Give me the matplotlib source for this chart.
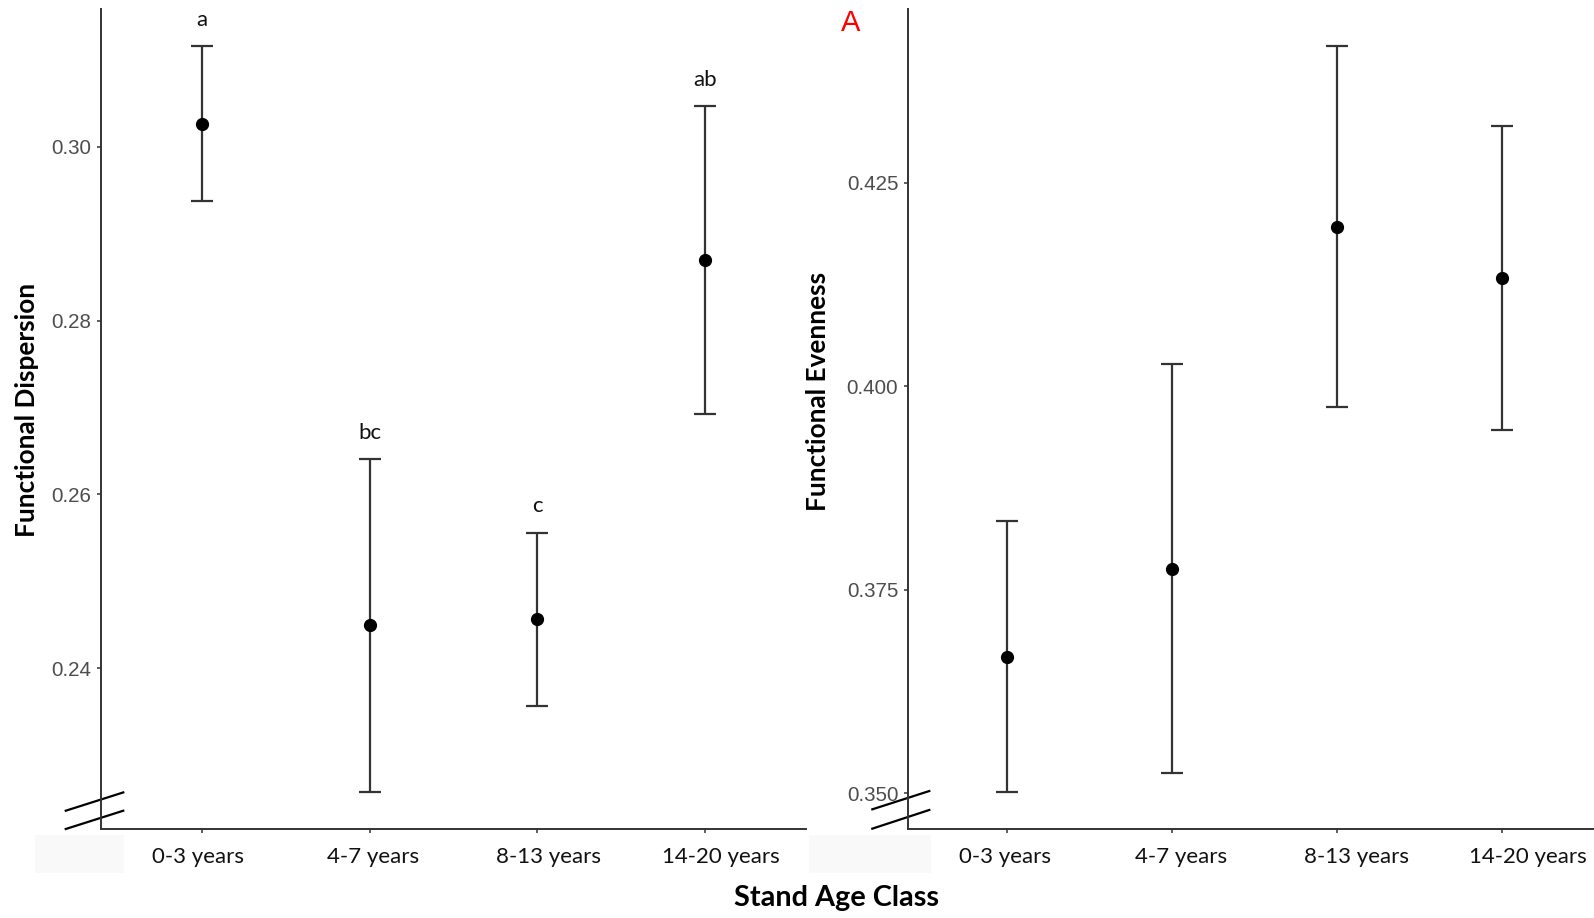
import matplotlib
matplotlib.use('Agg')
import matplotlib.pyplot as plt
from matplotlib.lines import Line2D
from matplotlib.patches import Rectangle
import numpy as np

# stand age classes and group means +/- SE
age_classes = ['0-3 years', '4-7 years', '8-13 years', '14-20 years']
fdis_mean = [0.3027, 0.2449, 0.2456, 0.2870]
fdis_se = [0.0089, 0.0192, 0.0100, 0.0177]
fdis_letters = ['a', 'bc', 'c', 'ab']
feve_mean = [0.3668, 0.3776, 0.4196, 0.4133]
feve_se = [0.0166, 0.0251, 0.0222, 0.0187]
fdis_ticks = [0.24, 0.26, 0.28, 0.30]
feve_ticks = [0.350, 0.375, 0.400, 0.425]

W, H = 1594, 918
fig = plt.figure(figsize=(W / 100, H / 100), dpi=100)

cat_font = 'Lato'
num_font = 'Liberation Sans'
line_col = '#333333'

# category label centres (px), typed in over the axes
label_x_left = [198, 373, 549, 721]
label_x_right = [1005, 1181, 1356, 1528]


def style_axes(ax, ticks, fmt):
	x = np.arange(1, len(age_classes) + 1)
	ax.set_xlim(0.4, len(age_classes) + 0.6)
	ax.set_xticks(x)
	ax.set_xticklabels([])
	ax.set_yticks(ticks)
	ax.set_yticklabels([fmt % t for t in ticks], fontfamily=num_font, fontsize=14.8, color='#4d4d4d')
	for side in ['top', 'right']:
		ax.spines[side].set_visible(False)
	for side in ['left', 'bottom']:
		ax.spines[side].set_color(line_col)
		ax.spines[side].set_linewidth(1.4)
	ax.tick_params(axis='both', length=3, width=1.1, color=line_col)
	ax.tick_params(axis='y', pad=4)
	ax.patch.set_alpha(0)


def category_labels(xs):
	for xp, lab in zip(xs, age_classes):
		fig.text(xp / W, 1 - 857 / H, lab, ha='center', va='center',
			fontfamily=cat_font, fontsize=16, color='#111111')


def break_marks(ax, xs, ys1, ys2):
	# two slanted strokes marking the truncated y axis
	for ys in (ys1, ys2):
		ax.add_line(Line2D(xs, ys, transform=ax.transAxes, color='black',
			lw=1.6, clip_on=False))


def draw_points(ax, mean, se):
	x = np.arange(1, len(mean) + 1)
	ax.errorbar(x, mean, yerr=se, fmt='none', ecolor=line_col, elinewidth=1.6,
		capsize=8, capthick=1.6, zorder=2)
	ax.plot(x, mean, 'o', color='black', markersize=8.5, zorder=3)


# faint patches left behind under the category labels
fig.add_artist(Rectangle((35 / W, 1 - 873 / H), 89 / W, 38 / H, transform=fig.transFigure,
	facecolor='#f9f9f9', edgecolor='none', zorder=0))
fig.add_artist(Rectangle((809 / W, 1 - 873 / H), 122 / W, 38 / H, transform=fig.transFigure,
	facecolor='#f9f9f9', edgecolor='none', zorder=0))

# Functional dispersion
ax1 = fig.add_axes([101 / W, 89 / H, 705 / W, 820 / H])
draw_points(ax1, fdis_mean, fdis_se)
for i, lab in enumerate(fdis_letters):
	ax1.text(i + 1, fdis_mean[i] + fdis_se[i] + 0.003, lab, ha='center', va='center',
		fontfamily=cat_font, fontsize=16, color='#111111')
ax1.set_ylim(0.22146, 0.31589)
style_axes(ax1, fdis_ticks, '%.2f')
break_marks(ax1, [-0.050, 0.0316], [0.0223, 0.0446], [0.0, 0.0223])
category_labels(label_x_left)

# Functional evenness
ax2 = fig.add_axes([908 / W, 89 / H, 693 / W, 820 / H])
draw_points(ax2, feve_mean, feve_se)
ax2.set_ylim(0.34562, 0.44633)
style_axes(ax2, feve_ticks, '%.3f')
break_marks(ax2, [-0.0515, 0.0307], [0.0240, 0.0463], [0.0004, 0.0232])
category_labels(label_x_right)

fig.text(27 / W, 1 - 410 / H, 'Functional Dispersion', rotation=90, ha='center', va='center',
	fontfamily=cat_font, fontweight='bold', fontsize=18.8, color='black')
fig.text(818 / W, 1 - 391 / H, 'Functional Evenness', rotation=90, ha='center', va='center',
	fontfamily=cat_font, fontweight='bold', fontsize=18.8, color='black')
fig.text(837 / W, 1 - 898 / H, 'Stand Age Class', ha='center', va='center',
	fontfamily=cat_font, fontweight='bold', fontsize=20.8, color='black')
fig.text(851 / W, 1 - 23 / H, 'A', ha='center', va='center',
	fontfamily=num_font, fontsize=21, color='#ff0000')

fig.savefig('out.png', dpi=100, facecolor='white')
